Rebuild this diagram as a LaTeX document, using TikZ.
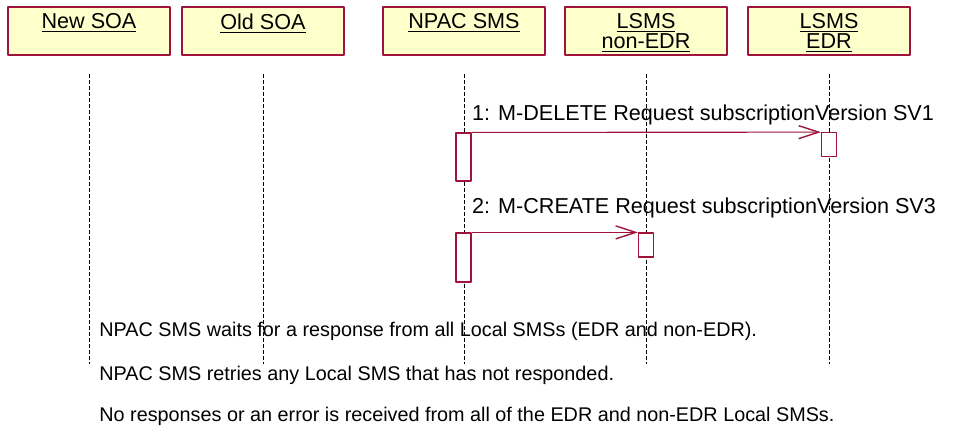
\documentclass[tikz,border=0pt]{standalone}
\usepackage{fontspec}
\setmainfont{Liberation Sans}
\usetikzlibrary{arrows.meta,positioning}
\definecolor{rosered}{RGB}{160,20,60}
\definecolor{roseyellow}{RGB}{255,255,204}
\newcommand{\objname}[1]{\underline{#1}}
\begin{document}
\begin{tikzpicture}[x=0.5pt, y=-0.5pt, font=\fontsize{10.8}{10}\selectfont, line join=round,
	>={Straight Barb[length=10pt,width=6.5pt,line width=0.7pt]},
	objbox/.style={draw=rosered, fill=roseyellow, line width=0.7pt, minimum width=81pt, minimum height=24pt, inner sep=0pt},
	objtitle/.style={align=center, inner sep=0pt, below=3.5pt of #1.north},
	lifeline/.style={dash pattern=on 2pt off 1pt, line width=0.45pt},
	actbar/.style={draw=rosered, fill=white, line width=0.6pt, minimum width=7.5pt, inner sep=0pt},
	msg/.style={draw=rosered, line width=0.55pt, ->},
	msglabel/.style={anchor=base west, inner sep=0pt, pos=0, text=black},
	note/.style={font=\fontsize{9.9}{10}\selectfont, anchor=base west, inner sep=0pt}]
	\useasboundingbox (0,0) rectangle (954,427);
	% objects
	\node[objbox] (newsoa) at (89,31) {};
	\node[objbox] (oldsoa) at (263,31) {};
	\node[objbox] (npac) at (464,31) {};
	\node[objbox] (lsmsnon) at (646,31) {};
	\node[objbox] (lsmsedr) at (829,31) {};
	\node[objtitle=newsoa] (newsoa-t) {\objname{New SOA}};
	\node[objtitle=oldsoa] (oldsoa-t) {\objname{Old SOA}};
	\node[objtitle=npac] (npac-t) {\objname{NPAC SMS}};
	\node[objtitle=lsmsnon] (lsmsnon-t) {\objname{LSMS}\\\objname{non-EDR}};
	\node[objtitle=lsmsedr] (lsmsedr-t) {\objname{LSMS}\\\objname{EDR}};
	% lifelines
	\draw[lifeline] ([yshift=-9pt]newsoa.south) -- ++(0,290);
	\draw[lifeline] ([yshift=-9pt]oldsoa.south) -- ++(0,290);
	\draw[lifeline] ([yshift=-9pt]npac.south) -- ++(0,290);
	\draw[lifeline] ([yshift=-9pt]lsmsnon.south) -- ++(0,290);
	\draw[lifeline] ([yshift=-9pt]lsmsedr.south) -- ++(0,290);
	% activations
	\node[actbar, minimum height=24pt] (npac-a1) at (463.5,157) {};
	\node[actbar, minimum height=11.75pt] (edr-a1) at (829,144.5) {};
	\node[actbar, minimum height=24.5pt] (npac-a2) at (463.5,257.5) {};
	\node[actbar, minimum height=12pt] (non-a2) at (646,245) {};
	% messages
	\draw[msg] (npac-a1.north east) -- (edr-a1.north west) node[msglabel, yshift=6pt] {1: M-DELETE Request subscriptionVersion SV1};
	\draw[msg] (npac-a2.north east) -- (non-a2.north west) node[msglabel, yshift=9.5pt] {2: M-CREATE Request subscriptionVersion SV3};
	% notes
	\node[note] (wait) at (99,337) {NPAC SMS waits for a response from all Local SMSs (EDR and non-EDR).};
	\node[note] (retry) at (99,380) {NPAC SMS retries any Local SMS that has not responded.};
	\node[note] (fail) at (99,422) {No responses or an error is received from all of the EDR and non-EDR Local SMSs.};
\end{tikzpicture}
\end{document}
